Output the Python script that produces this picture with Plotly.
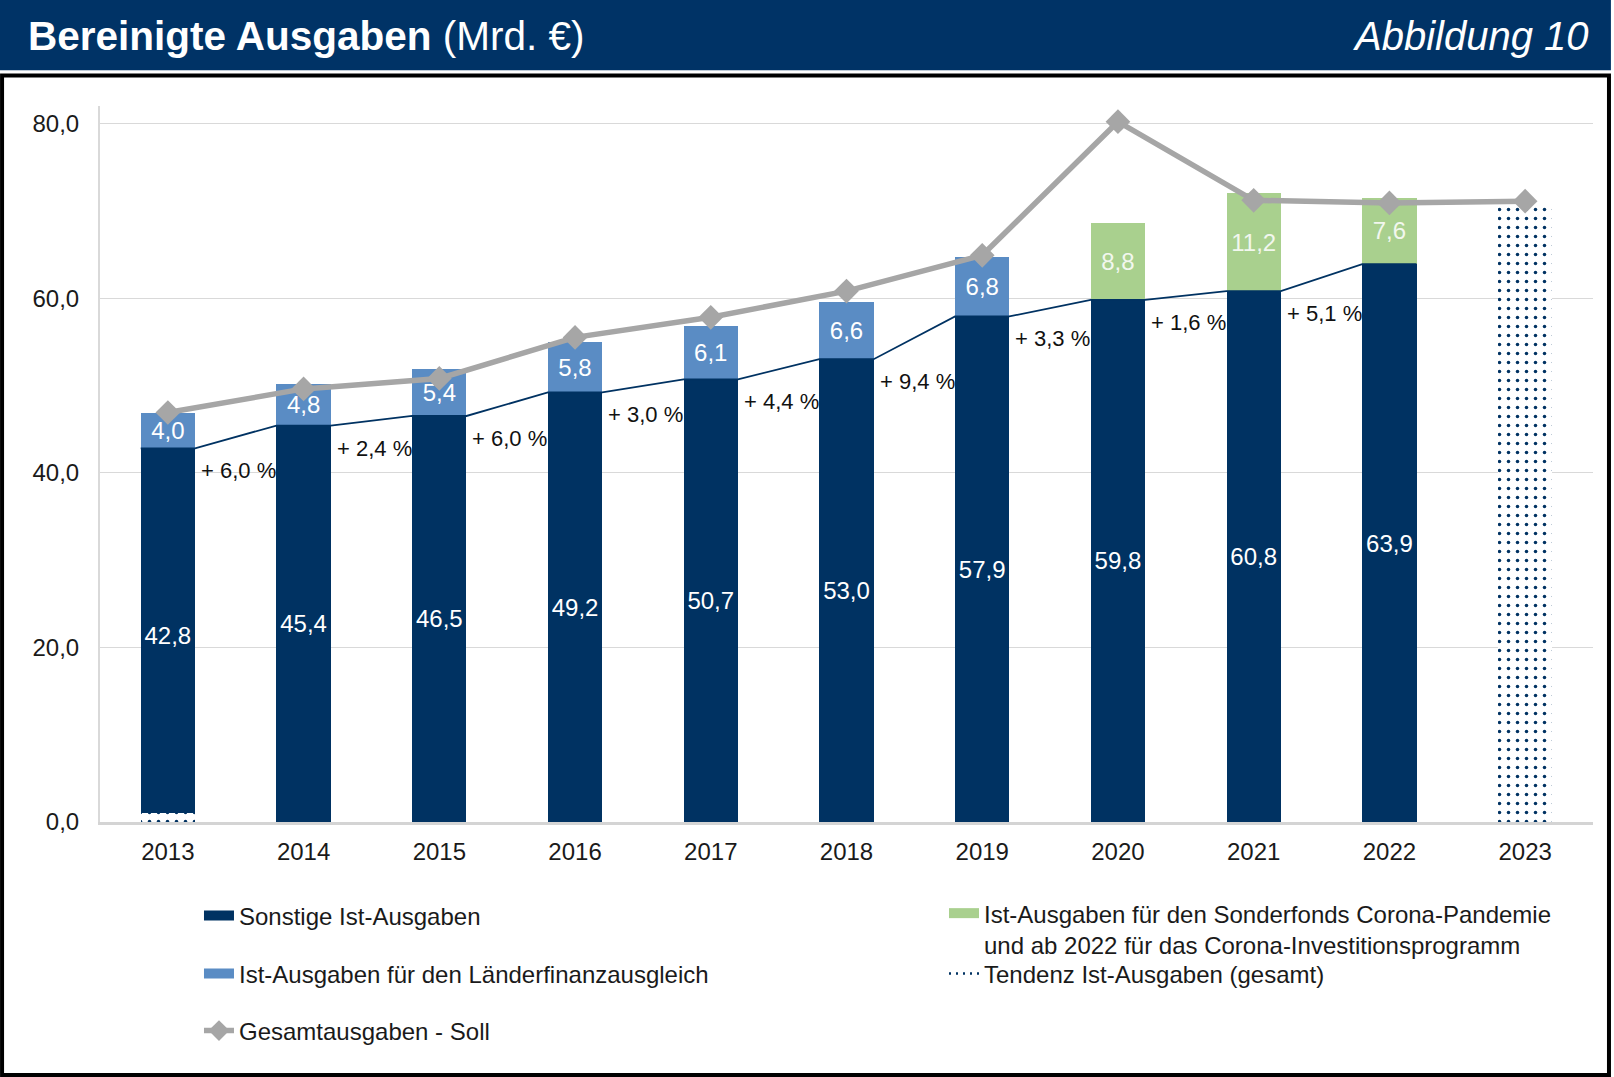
import plotly.graph_objects as go

# --- data (Mrd. EUR) ---
years = ["2013", "2014", "2015", "2016", "2017", "2018", "2019", "2020", "2021", "2022", "2023"]
sonstige = [42.8, 45.4, 46.5, 49.2, 50.7, 53.0, 57.9, 59.8, 60.8, 63.9, None]
laenderfinanzausgleich = [4.0, 4.8, 5.4, 5.8, 6.1, 6.6, 6.8, None, None, None, None]
corona = [None, None, None, None, None, None, None, 8.8, 11.2, 7.6, None]
tendenz = [1.0, None, None, None, None, None, None, None, None, None, 70.8]
soll = [46.9, 49.6, 50.8, 55.5, 57.8, 60.8, 64.9, 80.2, 71.2, 70.9, 71.1]
growth_labels = ["+ 6,0 %", "+ 2,4 %", "+ 6,0 %", "+ 3,0 %", "+ 4,4 %",
                 "+ 9,4 %", "+ 3,3 %", "+ 1,6 %", "+ 5,1 %"]

NAVY = "#003262"
HEADER = "#003366"
LIGHTBLUE = "#5a8cc4"
GREEN = "#a9d08e"
GRAY = "#a6a6a6"
FONT = "Liberation Sans, Arial, sans-serif"

bar_w = 0.4
xs = list(range(len(years)))
label_font = dict(color="white", size=24, family=FONT)

fig = go.Figure()

fig.add_trace(go.Bar(
    x=xs, y=sonstige, width=bar_w, name="Sonstige Ist-Ausgaben",
    marker=dict(color=NAVY, line=dict(width=0)),
    texttemplate="%{y:.1f}", textposition="inside", insidetextanchor="middle",
    textfont=label_font, constraintext="none", showlegend=False,
))
fig.add_trace(go.Bar(
    x=xs, y=laenderfinanzausgleich, width=bar_w,
    name="Ist-Ausgaben für den Länderfinanzausgleich",
    marker=dict(color=LIGHTBLUE, line=dict(width=0)),
    texttemplate="%{y:.1f}", textposition="inside", insidetextanchor="middle",
    textfont=label_font, constraintext="none", showlegend=False,
))
fig.add_trace(go.Bar(
    x=xs, y=corona, width=bar_w, name="Corona",
    marker=dict(color=GREEN, line=dict(width=0)),
    texttemplate="%{y:.1f}", textposition="inside", insidetextanchor="middle",
    textfont=dict(color="#f2f7ee", size=24, family=FONT), constraintext="none",
    showlegend=False,
))
# tendency bar has its own base -> drawn overlaid instead of stacked
fig.add_trace(go.Bar(
    x=xs, y=tendenz, base=[0] * len(xs), width=bar_w, name="Tendenz",
    marker=dict(color="white", line=dict(width=0),
                pattern=dict(shape=".", bgcolor="white", fgcolor=NAVY,
                             size=9, solidity=0.12, fillmode="replace")),
    showlegend=False,
))

# series line linking the tops of the "Sonstige" bars
sx, sy = [], []
for i, v in enumerate(sonstige):
    if v is None:
        continue
    sx += [i - bar_w / 2, i + bar_w / 2]
    sy += [v, v]
fig.add_trace(go.Scatter(
    x=sx, y=sy, mode="lines", line=dict(color=NAVY, width=1.8),
    showlegend=False, hoverinfo="skip",
))

fig.add_trace(go.Scatter(
    x=xs, y=soll, mode="lines+markers", name="Gesamtausgaben - Soll",
    line=dict(color=GRAY, width=5.5),
    marker=dict(symbol="diamond", size=19, color=GRAY),
    legend="legend3",
))

# legend entries (wide swatches like the original)
fig.add_trace(go.Scatter(x=[None], y=[None], mode="lines", name="Sonstige Ist-Ausgaben",
                         line=dict(color=NAVY, width=12), legend="legend"))
fig.add_trace(go.Scatter(x=[None], y=[None], mode="lines",
                         name="Ist-Ausgaben für den Länderfinanzausgleich",
                         line=dict(color=LIGHTBLUE, width=12), legend="legend2"))
fig.add_trace(go.Scatter(x=[None], y=[None], mode="lines",
                         name="Ist-Ausgaben für den Sonderfonds Corona-Pandemie<br>"
                              "und ab 2022 für das Corona-Investitionsprogramm",
                         line=dict(color=GREEN, width=12), legend="legend4"))
fig.add_trace(go.Scatter(x=[None], y=[None], mode="lines",
                         name="Tendenz Ist-Ausgaben (gesamt)",
                         line=dict(color=NAVY, width=2.5, dash="2px,5px"), legend="legend5"))

# growth labels next to each bar
for i, lab in enumerate(growth_labels):
    fig.add_annotation(
        x=i + bar_w / 2, y=sonstige[i], text=lab, showarrow=False,
        xanchor="left", yanchor="top", xshift=4, yshift=-8,
        font=dict(size=22, color="#111111", family=FONT),
    )

# header band + frame
fig.add_shape(type="rect", xref="paper", yref="paper",
              x0=-0.07, x1=1.012, y0=1.050, y1=1.16,
              fillcolor=HEADER, line=dict(width=0), layer="below")
fig.add_shape(type="rect", xref="paper", yref="paper",
              x0=-0.0656, x1=1.0107, y0=-0.3535, y1=1.0425,
              fillcolor="rgba(0,0,0,0)", line=dict(color="black", width=4))
fig.add_annotation(
    xref="paper", yref="paper", x=-0.0495, y=1.0975, xanchor="left", yanchor="middle",
    text="<b>Bereinigte Ausgaben</b> (Mrd. €)", showarrow=False,
    font=dict(size=40.5, color="white", family=FONT),
)
fig.add_annotation(
    xref="paper", yref="paper", x=0.9987, y=1.0975, xanchor="right", yanchor="middle",
    text="<i>Abbildung 10</i>", showarrow=False,
    font=dict(size=40, color="white", family=FONT),
)

leg_common = dict(xanchor="left", yanchor="middle", bgcolor="rgba(0,0,0,0)",
                  font=dict(size=24, family=FONT, color="#1a1a1a"))

fig.update_layout(
    width=1614, height=1077,
    margin=dict(l=100, r=21, t=106, b=255),
    paper_bgcolor="white", plot_bgcolor="white",
    barmode="stack", separators=",.",
    font=dict(family=FONT, size=24, color="#1a1a1a"),
    xaxis=dict(
        range=[-0.5, 10.5], tickvals=xs, ticktext=years, showgrid=False,
        showline=True, linecolor="#d4d4d4", linewidth=3, ticks="",
        tickfont=dict(size=24), zeroline=False, ticklabelstandoff=6,
    ),
    yaxis=dict(
        range=[0, 82], tickvals=[0, 20, 40, 60, 80], tickformat=".1f",
        showgrid=True, gridcolor="#d9d9d9", gridwidth=1,
        showline=True, linecolor="#d9d9d9", linewidth=2, ticks="",
        ticklabelstandoff=14, tickfont=dict(size=24), zeroline=False,
    ),
    legend=dict(x=0.0663, y=-0.1313, **leg_common),
    legend2=dict(x=0.0663, y=-0.2123, **leg_common),
    legend3=dict(x=0.0663, y=-0.2919, **leg_common),
    legend4=dict(x=0.5653, y=-0.1495, valign="top", **leg_common),
    legend5=dict(x=0.5653, y=-0.2123, **leg_common),
)

fig.write_html("out.html", config={"displayModeBar": False},
               post_script="document.body.style.margin='0px'; document.body.style.overflow='hidden';")
